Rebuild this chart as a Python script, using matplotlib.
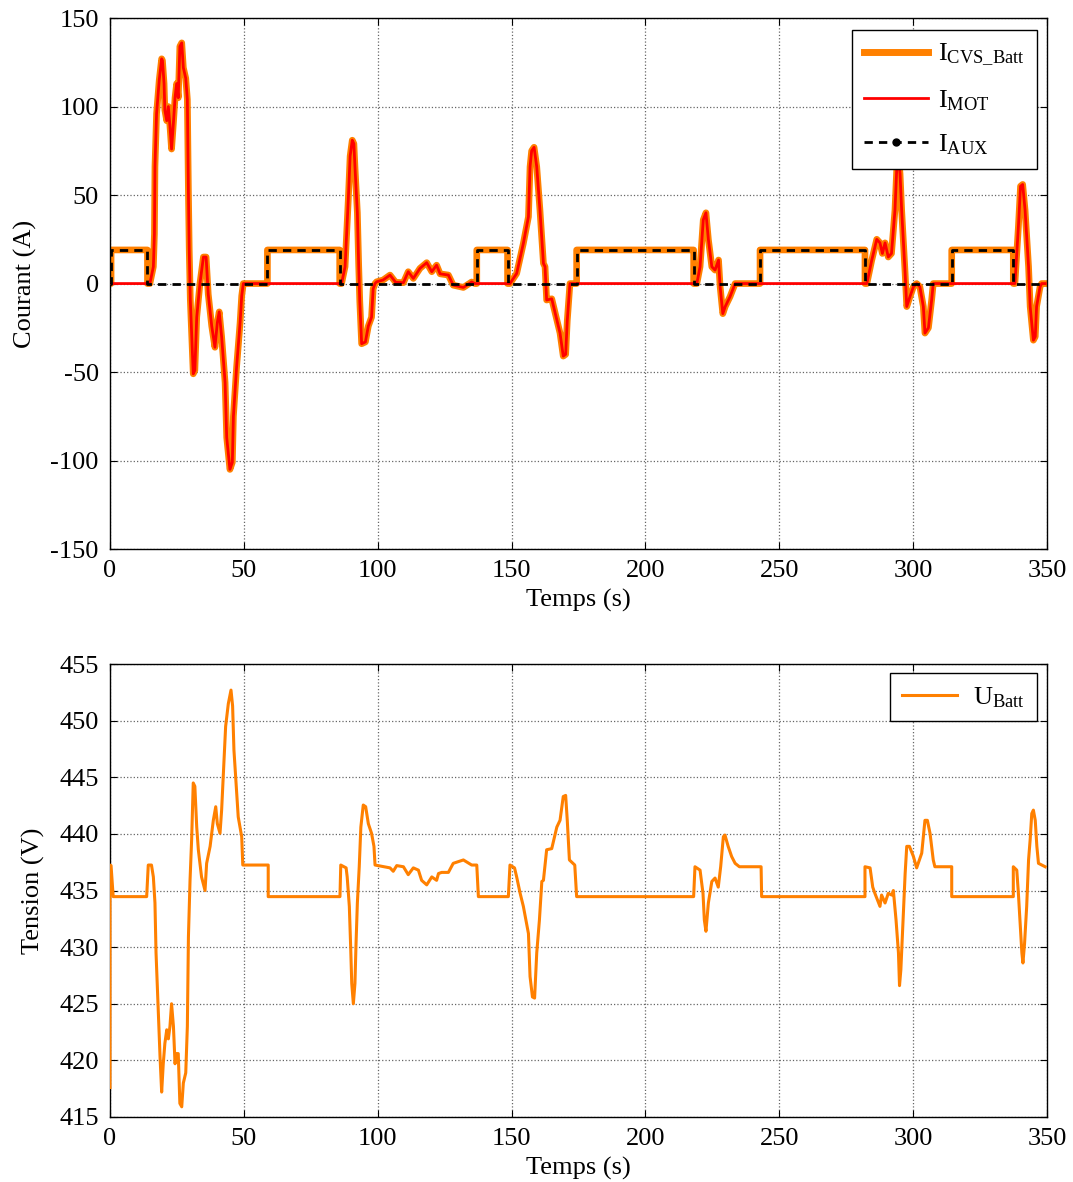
import matplotlib
matplotlib.use("Agg")
import matplotlib.pyplot as plt
from matplotlib.lines import Line2D

plt.rcParams['font.family'] = ['Liberation Serif', 'DejaVu Serif']
plt.rcParams['mathtext.fontset'] = 'custom'
plt.rcParams['mathtext.rm'] = 'Liberation Serif'
plt.rcParams['axes.unicode_minus'] = False

# ---- top plot: currents (A) vs time (s) ----
t_top = [0, 0.4, 0.4, 14, 14, 14.9,
         16.2, 16.6, 16.8, 17.4, 18.4, 19.3, 19.6, 20.2, 20.5, 21.2, 21.8, 22.4, 23.0, 23.7,
         24.3, 24.9, 25.5, 26.1, 26.8, 27.4, 28.3, 28.9, 29.3, 29.6, 30.0, 31.1, 31.7, 32.4,
         33.6, 34.9, 35.9, 36.7, 38.0, 39.2, 40.1, 40.8, 41.7, 43.0, 43.6, 44.8, 45.7, 46.1,
         47.3, 48.6, 49.2, 49.8,
         58.8, 58.8, 85.8, 85.8,
         86.5, 87.8, 88.4, 89.0, 89.7, 90.5, 91.1, 91.5, 92.4, 92.9, 93.3, 94.0, 95.4, 96.5,
         97.7, 98.3, 99.0,
         99.6, 102, 104.6, 106.7, 109.6, 111.4, 113.3, 115.8, 118.3, 120.2, 122, 123.3, 126.4,
         128.2, 132, 135.1, 136.3,
         137, 137, 148.5, 148.5,
         149.4, 151.9, 154.4, 156.3, 156.9, 157.5, 158.4, 159.4, 160.6, 161.9, 162.5, 163.1,
         165, 166.9, 168.1, 169.3, 170.2, 170.8, 171.8, 173.6,
         174.3, 174.3, 218, 218,
         219.2, 220.4, 221.6, 222.6, 223.5, 224.8, 226, 227.3, 227.9, 228.9, 229.8, 231.6, 233.5,
         242.8, 242.8, 282, 282,
         282.7, 284.5, 286.4, 287.6, 288.5, 289.5, 290.7, 291.9, 293.2, 293.9, 294.5, 295.1,
         295.7, 297, 297.6, 298.8, 300.1, 301.3, 302.5, 303.8, 304.4, 305.7, 306.9, 307.5,
         314.4, 314.4, 337.4, 337.4,
         338, 339.3, 340.1, 340.9, 341.8, 343.1, 343.7, 344.9, 345.6, 346.1, 347.4, 348, 349.3]

i_mot = [0, 0, 0, 0, 0, 0,
         9.5, 28, 66, 96, 115, 127, 126, 113, 98, 92, 100, 89, 76, 91,
         105, 113, 105, 134, 136, 122, 116, 104, 51, 19, -9, -51, -49, -19,
         0, 15, 15, -6, -24, -36, -22, -16, -30, -56, -87, -105, -101, -75,
         -47, -22, -7, 0,
         0, 0, 0, 0,
         0, 9.5, 28, 47, 72, 81, 79, 66, 40, 10, -10, -34, -33, -24,
         -19, -3, 0,
         1, 2, 4.8, 0.7, 0.5, 6.7, 2.9, 8.6, 11.8, 6.7, 10.4, 5.5, 4.8,
         -0.9, -2.2, 0.9, 0,
         0, 0, 0, 0,
         0, 5.7, 22.7, 37.7, 66, 75, 77, 66, 41.5, 11.4, 9.5, -9.3,
         -8.6, -20.6, -28, -41, -40, -21, 0, 0,
         0, 0, 0, 0,
         0, 9.5, 36, 40, 25, 9.5, 7.6, 13.3, -1.8, -17, -13, -7.4, 0,
         0, 0, 0, 0,
         0, 13, 25, 23, 17, 23, 15, 17, 41.5, 66, 72, 62,
         41.5, 5.7, -13, -7.4, -1.8, 0, -1.8, -13, -28, -25, -9.3, 0,
         0, 0, 0, 0,
         0, 32, 55, 56, 41.5, 9.5, -13, -32, -30, -13, -1.8, 0, 0]

i_cvs = [0, 0, 19, 19, 0, 0,
         9.5, 28, 66, 96, 115, 127, 126, 113, 98, 92, 100, 89, 76, 91,
         105, 113, 105, 134, 136, 122, 116, 104, 51, 19, -9, -51, -49, -19,
         0, 15, 15, -6, -24, -36, -22, -16, -30, -56, -87, -105, -101, -75,
         -47, -22, -7, 0,
         0, 19, 19, 0,
         0, 9.5, 28, 47, 72, 81, 79, 66, 40, 10, -10, -34, -33, -24,
         -19, -3, 0,
         1, 2, 4.8, 0.7, 0.5, 6.7, 2.9, 8.6, 11.8, 6.7, 10.4, 5.5, 4.8,
         -0.9, -2.2, 0.9, 0,
         0, 19, 19, 0,
         0, 5.7, 22.7, 37.7, 66, 75, 77, 66, 41.5, 11.4, 9.5, -9.3,
         -8.6, -20.6, -28, -41, -40, -21, 0, 0,
         0, 19, 19, 0,
         0, 9.5, 36, 40, 25, 9.5, 7.6, 13.3, -1.8, -17, -13, -7.4, 0,
         0, 19, 19, 0,
         0, 13, 25, 23, 17, 23, 15, 17, 41.5, 66, 72, 62,
         41.5, 5.7, -13, -7.4, -1.8, 0, -1.8, -13, -28, -25, -9.3, 0,
         0, 19, 19, 0,
         0, 32, 55, 56, 41.5, 9.5, -13, -32, -30, -13, -1.8, 0, 0]

# AUX current: square steps 0 / 19 A
t_aux = [0, 0.4, 0.4, 14, 14, 58.8, 58.8, 85.8, 85.8, 137, 137, 148.5, 148.5, 174.3, 174.3,
         218, 218, 242.8, 242.8, 282, 282, 314.4, 314.4, 337.4, 337.4, 349.3]
i_aux = [0, 0, 19, 19, 0, 0, 19, 19, 0, 0, 19, 19, 0, 0, 19,
         19, 0, 0, 19, 19, 0, 0, 19, 19, 0, 0]

# ---- bottom plot: battery voltage (V) ----
t_u = [0, 0, 0.4, 1.2, 13.7, 14.3, 15.5, 16.2, 16.8, 17.2, 18.1, 18.7, 19.3, 19.9, 20.5,
       21.2, 21.8, 22.4, 23.0, 23.7, 24.3, 24.9, 25.5, 26.1, 26.8, 27.4, 28.3, 28.9, 29.3,
       29.9, 30.5, 31.1, 31.7, 32.4, 33.0, 34.2, 35.5, 36.1, 37.4, 38.6, 39.5, 40.1, 41.1,
       41.7, 42.6, 43.2, 44.2, 45.2, 45.8, 46.3, 47.1, 47.9, 49.2, 49.6, 59.1, 59.1,
       85.9, 86.2, 88.2, 88.6, 89.4, 89.9, 90.3, 90.9, 91.5, 91.9, 92.4, 93.1, 93.7, 94.6,
       95.5, 96.5, 97.7, 98.6, 99.0,
       104.6, 105.8, 107.1, 109.6, 111.4, 113.3, 115.2, 116.4, 118.3, 120.2, 122, 122.7,
       123.9, 126.4, 128.2, 132, 135.1, 137, 137.6, 148.8,
       149.4, 151.1, 151.9, 153.2, 154.4, 156.3, 156.9, 157.8, 158.6, 159.4, 160.4, 161.3,
       161.9, 163.1, 165, 166.9, 168.1, 169.3, 170.2, 170.8, 171.6, 173.6, 174.3, 218,
       218.5, 220.4, 221.5, 222.0, 222.6, 223.5, 224.8, 226, 227.2, 228.1, 229.1, 229.7,
       230.9, 232.2, 233.5, 235.1, 243.2, 243.4, 282,
       282, 283.9, 284.9, 285.7, 287.6, 288.2, 289.5, 290.7, 292, 292.6, 293.6, 294.5,
       294.9, 295.4, 296.4, 297, 297.6, 298.6, 300.1, 301.3, 302.3, 303.2, 304.4, 305.3,
       306.3, 307.5, 308.1, 314.4, 314.4, 337.4,
       337.4, 338.7, 339.3, 339.9, 340.6, 341, 341.6, 342.4, 343.1, 343.7, 344.3, 344.9,
       345.6, 346.2, 346.8, 349.3]
u_batt = [417.6, 437.25, 437.2, 434.46, 434.46, 437.25, 437.25, 436.2, 433.9, 429.5, 423.9,
          420.3, 417.2, 419.7, 421.5, 422.7, 421.9, 423.0, 425.0, 423.0, 419.7, 420.6, 420.6,
          416.2, 415.9, 418.0, 418.9, 423.0, 430.9, 435.9, 439.5, 444.5, 444.2, 440.6, 438.6,
          436.2, 435.0, 437.4, 438.9, 441.2, 442.4, 440.9, 440.05, 442.1, 446.5, 449.5,
          451.5, 452.7, 451.3, 447.4, 444.5, 441.5, 439.75, 437.25, 437.25, 434.46,
          434.46, 437.25, 437.0, 436.2, 433.6, 430.0, 426.8, 425.0, 426.8, 430.3, 433.9,
          437.1, 440.6, 442.55, 442.4, 440.9, 440.05, 438.9, 437.25,
          437.0, 436.7, 437.2, 437.1, 436.4, 437.0, 436.8, 435.9, 435.5, 436.2, 435.9, 436.5,
          436.6, 436.6, 437.4, 437.7, 437.25, 437.25, 434.46, 434.46,
          437.25, 437.0, 436.2, 434.75, 433.6, 431.2, 427.4, 425.6, 425.5, 429.5, 432.4,
          435.8, 435.9, 438.6, 438.7, 440.6, 441.2, 443.3, 443.4, 441.2, 437.7, 437.25,
          434.46, 434.46,
          437.1, 436.8, 434.75, 432.4, 431.4, 433.9, 435.8, 436.1, 435.3, 437.1, 439.75,
          439.9, 438.9, 438.0, 437.4, 437.1, 437.1, 434.46, 434.46,
          437.1, 437.0, 435.3, 434.75, 433.6, 434.6, 433.9, 434.75, 434.6, 435.0, 432.4,
          429.5, 426.6, 428.0, 433.3, 436.5, 438.9, 438.9, 438.0, 437.0, 437.7, 438.3, 441.2,
          441.2, 440.05, 437.7, 437.1, 437.1, 434.46, 434.46,
          437.1, 436.8, 434.75, 432.4, 429.5, 428.6, 430.3, 433.6, 437.7, 439.5, 441.8,
          442.1, 441.2, 438.9, 437.4, 437.1]

orange = '#FF8000'

fig = plt.figure(figsize=(10.73, 11.82), dpi=100)
ax1 = fig.add_axes([0.1025, 0.5355, 0.8733, 0.4492])
ax2 = fig.add_axes([0.1025, 0.055, 0.8733, 0.3832])

ax1.plot(t_top, i_cvs, color=orange, lw=4.8, solid_joinstyle='round', zorder=2)
ax1.plot(t_top, i_mot, color='#FF0000', lw=2.0, zorder=3)
ax1.plot(t_aux, i_aux, color='black', lw=2, ls=(0, (3, 2.2)), zorder=4)

ax2.plot(t_u, u_batt, color=orange, lw=2.2, zorder=3)

for ax in (ax1, ax2):
    ax.set_xlim(0, 350)
    ax.set_xticks(range(0, 351, 50))
    ax.grid(True, color='#666666', ls=':', lw=0.9)
    ax.tick_params(direction='in', top=True, right=True, labelsize=19, length=5, pad=8)
    for sp in ax.spines.values():
        sp.set_linewidth(1.0)
    ax.set_xlabel('Temps (s)', fontsize=19, labelpad=5)

ax1.set_ylim(-150, 150)
ax1.set_yticks(range(-150, 151, 50))
ax1.set_ylabel('Courant (A)', fontsize=19, labelpad=10)

ax2.set_ylim(415, 455)
ax2.set_yticks(range(415, 456, 5))
ax2.set_ylabel('Tension (V)', fontsize=19, labelpad=10)

h1 = [Line2D([], [], color=orange, lw=5),
      Line2D([], [], color='#FF0000', lw=2),
      Line2D([], [], color='black', lw=2, ls=(0, (3, 2.2)), marker='o', markersize=5)]
lab1 = [r'$\mathregular{I_{CVS\_Batt}}$', r'$\mathregular{I_{MOT}}$', r'$\mathregular{I_{AUX}}$']
leg1 = ax1.legend(h1, lab1, loc='upper right', bbox_to_anchor=(0.989, 0.977), fontsize=19,
                  fancybox=False, framealpha=1, edgecolor='black', handlelength=2.4,
                  borderpad=0.45, labelspacing=0.75, handletextpad=0.4, numpoints=1,
                  borderaxespad=0)
leg1.get_frame().set_linewidth(1.0)
leg1.set_zorder(10)

leg2 = ax2.legend([Line2D([], [], color=orange, lw=2.2)], [r'$\mathregular{U_{Batt}}$'],
                  loc='upper right', bbox_to_anchor=(0.989, 0.98), fontsize=19,
                  fancybox=False, framealpha=1, edgecolor='black', handlelength=2.1,
                  borderpad=0.45, handletextpad=0.6, borderaxespad=0)
leg2.get_frame().set_linewidth(1.0)

fig.savefig('out.png', dpi=100)
